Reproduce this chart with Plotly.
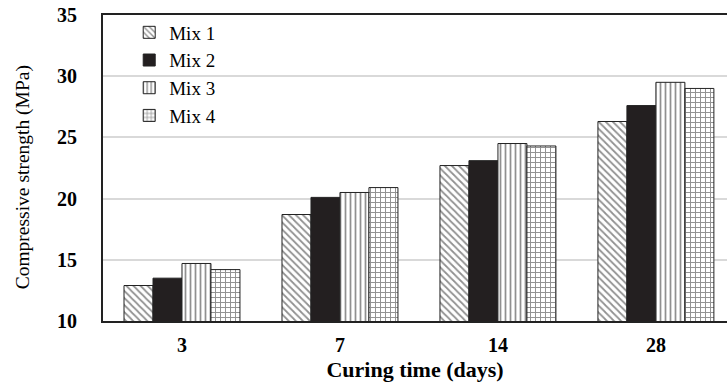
import plotly.graph_objects as go

categories = ["3", "7", "14", "28"]
mix1 = [12.9, 18.7, 22.7, 26.3]
mix2 = [13.5, 20.1, 23.1, 27.6]
mix3 = [14.7, 20.5, 24.5, 29.5]
mix4 = [14.2, 20.9, 24.3, 29.0]
series_names = ["Mix 1", "Mix 2", "Mix 3", "Mix 4"]
y_ticks = [10, 15, 20, 25, 30, 35]

FONT = "Liberation Serif"

styles = [
    dict(color="white", pattern=dict(shape="\\", fgcolor="#222", bgcolor="white", size=5, solidity=0.35)),
    dict(color="#231f20"),
    dict(color="white", pattern=dict(shape="|", fgcolor="#222", bgcolor="white", size=5, solidity=0.35)),
    dict(color="white", pattern=dict(shape="+", fgcolor="#222", bgcolor="white", size=5, solidity=0.35)),
]

fig = go.Figure()
for name, vals, st in zip(series_names, [mix1, mix2, mix3, mix4], styles):
    fig.add_trace(go.Bar(
        x=categories, y=vals, name=name,
        marker=dict(line=dict(color="#222", width=1), **st),
    ))

fig.update_layout(
    width=727, height=385,
    margin=dict(l=103, r=0, t=15, b=64),
    paper_bgcolor="white", plot_bgcolor="white",
    barmode="group", bargap=0.266, bargroupgap=0,
    font=dict(family=FONT, color="black", size=19),
    showlegend=True,
    legend=dict(
        x=0.042, y=1.005, xanchor="left", yanchor="top",
        bgcolor="rgba(0,0,0,0)", font=dict(family=FONT, size=19, color="black"),
        itemwidth=30, tracegroupgap=0,
    ),
    xaxis=dict(
        type="category", range=[-0.5, 3.45],
        showline=True, linecolor="#222", linewidth=2, mirror=True,
        showgrid=False, ticks="", ticklabelstandoff=5,
        tickfont=dict(family=FONT, size=20, color="black", weight="bold"),
        title=dict(text="Curing time (days)", standoff=7,
                   font=dict(family=FONT, size=22, color="black", weight="bold")),
    ),
    yaxis=dict(
        range=[10, 35], tickvals=y_ticks,
        showline=True, linecolor="#222", linewidth=2,
        showgrid=True, gridcolor="#d9d9d9", gridwidth=1.5,
        ticks="", ticklabelstandoff=20,
        tickfont=dict(family=FONT, size=20, color="black", weight="bold"),
    ),
    annotations=[dict(
        text="Compressive strength (MPa)", textangle=-90,
        xref="paper", yref="paper", x=-0.128, y=0.47,
        xanchor="center", yanchor="middle", showarrow=False,
        font=dict(family=FONT, size=19.5, color="black"),
    )],
)

fig.write_html("out.html")
